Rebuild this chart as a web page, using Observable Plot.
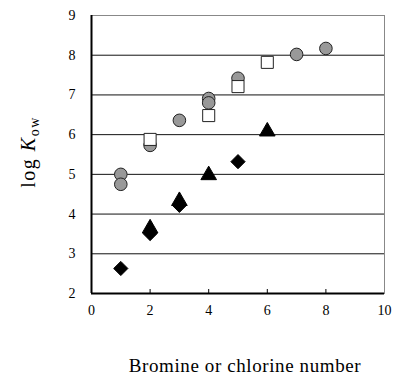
<!DOCTYPE html>
<html>
<head>
<meta charset="utf-8">
<script src="https://cdn.jsdelivr.net/npm/d3@7"></script>
<script src="https://cdn.jsdelivr.net/npm/@observablehq/plot@0.6"></script>
<style>
  html, body { margin: 0; padding: 0; background: #fff; }
  #chart svg { display: block; }
  #chart svg, #chart svg text { font-family: "Liberation Serif", "Times New Roman", serif !important; }
</style>
</head>
<body>
<div id="chart"></div>
<script>
// Bromine / chlorine number (x) and log Kow (y) for each series
const circleX = [1, 1, 2, 3, 4, 4, 5, 7, 8];
const circleY = [5.0, 4.75, 5.73, 6.36, 6.91, 6.8, 7.42, 8.02, 8.17];
const squareX = [2, 4, 5, 6];
const squareY = [5.88, 6.48, 7.21, 7.82];
const triangleX = [2, 3, 4, 6];
const triangleY = [3.64, 4.33, 4.98, 6.08];
const diamondX = [1, 2, 3, 5];
const diamondY = [2.63, 3.51, 4.22, 5.32];

const xTicks = [0, 2, 4, 6, 8, 10];
const yTicks = [2, 3, 4, 5, 6, 7, 8, 9];
const gridY = [3, 4, 5, 6, 7, 8];
const innerXTicks = [2, 4, 6, 8];

const toRows = (xs, ys) => xs.map((x, i) => ({x, y: ys[i]}));
const circles = toRows(circleX, circleY);
const squares = toRows(squareX, squareY);
const triangles = toRows(triangleX, triangleY);
const diamonds = toRows(diamondX, diamondY);

const font = "Liberation Serif, Times New Roman, serif";

// inward tick symbol (short vertical line upward)
const tickUp = { draw(ctx) { ctx.moveTo(0, 0); ctx.lineTo(0, -4.5); } };

const chart = Plot.plot({
  width: 394,
  height: 376,
  marginLeft: 91,
  marginRight: 10,
  marginTop: 15,
  marginBottom: 83,
  style: { fontFamily: font, fontSize: "14px", color: "#000", background: "#fff" },
  x: { domain: [0, 10] },
  y: { domain: [2, 9] },
  marks: [
    Plot.ruleY(gridY, { stroke: "#111", strokeWidth: 1 }),
    Plot.frame({ stroke: "#888", strokeWidth: 1 }),
    Plot.ruleX([0], { stroke: "#000", strokeWidth: 2 }),
    Plot.ruleY([2], { stroke: "#000", strokeWidth: 2 }),
    Plot.dot(innerXTicks, { x: d => d, y: () => 2, symbol: tickUp, r: 1, stroke: "#000", strokeWidth: 1 }),
    Plot.axisX({ ticks: xTicks, tickSize: 0, tickPadding: 12, tickFormat: d3.format("d"), label: null, fontSize: 14, fontFamily: font }),
    Plot.axisY({ ticks: yTicks, tickSize: 0, tickPadding: 16, tickFormat: d3.format("d"), label: null, fontSize: 14, fontFamily: font }),
    Plot.dot(circles, { x: "x", y: "y", symbol: "circle", r: 6.3, fill: "#999", stroke: "#222", strokeWidth: 1 }),
    Plot.dot(squares, { x: "x", y: "y", symbol: "square", r: 6.8, fill: "#fff", stroke: "#222", strokeWidth: 1 }),
    Plot.dot(triangles, { x: "x", y: "y", symbol: "triangle", r: 5.8, fill: "#000", stroke: "#000", strokeWidth: 1 }),
    Plot.dot(diamonds, { x: "x", y: "y", symbol: "diamond2", r: 6.4, fill: "#000", stroke: "#000", strokeWidth: 1 })
  ]
});

document.getElementById("chart").appendChild(chart);

const svg = d3.select(chart);
// x-axis title
svg.append("text")
  .attr("x", 245)
  .attr("y", 372)
  .attr("text-anchor", "middle")
  .attr("font-family", font)
  .attr("font-size", "19px")
  .attr("letter-spacing", "0.6px")
  .attr("fill", "#000")
  .text("Bromine or chlorine number");

// y-axis title: log K_ow
const yl = svg.append("text")
  .attr("transform", "translate(35,152) rotate(-90)")
  .attr("text-anchor", "middle")
  .attr("font-family", font)
  .attr("font-size", "20px")
  .attr("letter-spacing", "1.5px")
  .attr("fill", "#000");
yl.append("tspan").text("log ");
yl.append("tspan").attr("font-style", "italic").text("K");
yl.append("tspan").attr("font-size", "14px").attr("dy", "4").text("ow");
</script>
</body>
</html>
